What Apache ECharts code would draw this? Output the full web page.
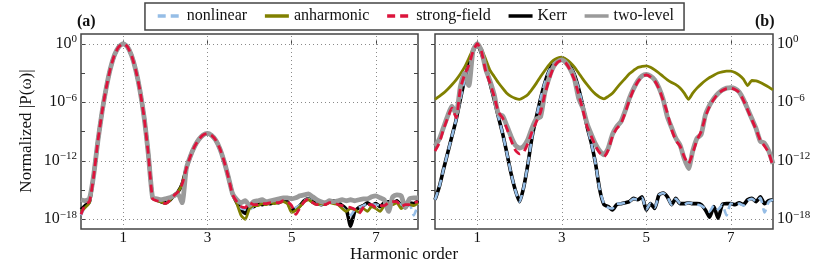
<!DOCTYPE html>
<html>
<head>
<meta charset="utf-8">
<script src="https://cdn.jsdelivr.net/npm/echarts@6/dist/echarts.min.js"></script>
<style>
html,body{margin:0;padding:0;background:#fff;}
#chart{width:830px;height:264px;}
</style>
</head>
<body>
<div id="chart"></div>
<script>
// Harmonic order samples (x)
const harmonicOrder = [0.0,0.1,0.2,0.3,0.4,0.5,0.6,0.7,0.8,0.9,1.0,1.1,1.2,1.3,1.4,1.5,1.6,1.7,1.8,1.9,2.0,2.1,2.2,2.3,2.4,2.5,2.6,2.7,2.8,2.9,3.0,3.1,3.2,3.3,3.4,3.5,3.6,3.7,3.8,3.9,4.0,4.1,4.2,4.3,4.4,4.5,4.6,4.7,4.8,4.9,5.0,5.1,5.2,5.3,5.4,5.5,5.6,5.7,5.8,5.9,6.0,6.1,6.2,6.3,6.4,6.5,6.6,6.7,6.8,6.9,7.0,7.1,7.2,7.3,7.4,7.5,7.6,7.7,7.8,7.9,8.0];

// Values are log10 of normalized |P(omega)|
// Panel (a)
const nonlinearA = [-17.6,-16.7,-16.3,-13.5,-10.0,-7.0,-4.5,-2.5,-1.1,-0.3,0,-0.3,-1.2,-2.7,-4.8,-7.6,-11.4,-15.8,-16.1,-16.2,-16.4,-16.1,-15.6,-15.2,-14.4,-12.8,-11.5,-10.5,-9.8,-9.35,-9.2,-9.4,-9.9,-10.8,-12.1,-13.7,-15.4,-16.3,-16.9,-17.0,-17.1,-16.6,-16.5,-16.4,-16.4,-16.3,-16.3,-16.2,-16.1,-16.3,-17.1,-16.8,-16.6,-16.1,-15.9,-16.2,-16.4,-16.5,-16.4,-16.3,-16.2,-16.4,-16.8,-17.2,-17.6,-17.0,-16.8,-16.6,-16.4,-16.5,-16.5,-16.6,-16.4,-16.3,-16.4,-16.2,-16.6,-16.7,-16.5,-17.6,-16.4];
const anharmonicA = [-17.2,-16.8,-16.3,-13.5,-10.0,-7.0,-4.5,-2.5,-1.1,-0.3,0,-0.3,-1.2,-2.7,-4.8,-7.6,-11.4,-15.8,-16.1,-16.2,-16.4,-16.1,-15.6,-15.2,-14.4,-12.8,-11.5,-10.5,-9.8,-9.35,-9.2,-9.4,-9.9,-10.8,-12.1,-13.7,-15.4,-16.4,-17.6,-18.0,-16.9,-16.6,-16.6,-16.4,-16.5,-16.3,-16.4,-16.3,-16.2,-16.4,-17.3,-17.1,-16.7,-16.2,-16.0,-16.3,-16.5,-16.4,-16.5,-16.3,-16.4,-16.5,-16.9,-17.2,-16.9,-17.0,-17.3,-16.9,-17.2,-16.7,-16.9,-17.2,-16.6,-16.4,-16.5,-16.3,-16.9,-16.6,-16.5,-16.6,-16.3];
const strongFieldA = [-17.5,-16.5,-16.2,-13.6,-10.0,-7.0,-4.5,-2.5,-1.1,-0.3,0,-0.3,-1.2,-2.7,-4.8,-7.6,-11.4,-15.9,-16.1,-16.2,-16.4,-16.1,-15.6,-15.2,-14.4,-12.8,-11.5,-10.5,-9.8,-9.35,-9.2,-9.4,-9.9,-10.8,-12.1,-13.7,-15.5,-16.2,-16.7,-16.8,-16.3,-16.5,-16.5,-16.4,-16.4,-16.3,-16.3,-16.3,-16.1,-16.2,-16.6,-17.5,-16.8,-16.2,-15.9,-16.3,-16.5,-16.5,-16.5,-16.3,-16.3,-16.5,-16.6,-16.7,-16.8,-17.0,-17.4,-16.8,-16.5,-16.5,-16.8,-16.6,-16.6,-16.3,-16.2,-16.2,-16.7,-16.5,-16.5,-16.3,-16.2];
const kerrA = [-17.0,-16.6,-16.2,-13.5,-10.0,-7.0,-4.5,-2.5,-1.1,-0.3,0,-0.3,-1.2,-2.7,-4.8,-7.6,-11.4,-15.8,-16.0,-16.2,-16.3,-16.1,-15.6,-15.2,-14.4,-12.8,-11.5,-10.5,-9.8,-9.35,-9.2,-9.4,-9.9,-10.8,-12.1,-13.7,-15.4,-16.3,-17.0,-17.4,-16.6,-16.7,-16.4,-16.5,-16.3,-16.4,-16.2,-16.3,-16.0,-16.2,-17.0,-16.9,-16.6,-16.1,-15.9,-16.2,-16.4,-16.5,-16.4,-16.2,-16.1,-16.3,-16.6,-17.0,-18.7,-17.2,-16.8,-16.6,-16.3,-16.6,-16.4,-16.7,-16.3,-16.2,-16.4,-16.1,-16.6,-16.8,-16.3,-16.4,-16.1];
const twoLevelA = [-16.0,-16.1,-15.9,-13.5,-10.0,-7.0,-4.5,-2.5,-1.1,-0.3,0,-0.3,-1.2,-2.7,-4.8,-7.6,-11.4,-15.8,-15.9,-16.0,-15.9,-15.8,-15.6,-15.4,-16.3,-12.8,-11.5,-10.5,-9.8,-9.35,-9.2,-9.4,-9.9,-10.8,-12.1,-13.7,-15.4,-16.0,-16.3,-16.1,-16.6,-16.2,-16.1,-16.0,-16.2,-16.1,-16.0,-15.9,-15.8,-15.8,-15.9,-15.8,-15.6,-15.5,-15.4,-15.7,-16.0,-16.2,-16.3,-16.1,-16.2,-16.1,-16.0,-16.1,-16.0,-16.1,-16.0,-15.9,-15.9,-15.7,-15.6,-15.8,-16.0,-17.2,-15.7,-15.5,-15.6,-16.8,-15.9,-15.8,-15.8];

// Panel (b)
const nonlinearB = [-16.0,-14.7,-12.9,-11.2,-9.5,-7.8,-5.7,-3.7,-2.0,-0.8,0,-1.0,-2.3,-4.0,-5.7,-7.5,-9.2,-11.2,-13.3,-15.0,-16.2,-14.7,-12.3,-9.5,-7.5,-5.6,-4.0,-2.8,-2.0,-1.6,-1.5,-1.7,-2.3,-3.2,-4.6,-6.4,-8.5,-10.2,-12.3,-15.0,-16.4,-16.8,-16.9,-16.4,-16.4,-16.3,-16.2,-15.9,-16.0,-15.8,-17.0,-16.4,-16.8,-15.5,-15.3,-15.7,-16.5,-15.9,-16.4,-16.5,-16.3,-16.4,-16.5,-16.6,-16.9,-17.2,-16.6,-17.0,-16.5,-17.6,-16.4,-16.5,-16.4,-16.6,-16.1,-15.9,-16.2,-15.8,-17.3,-16.2,-16.0];
const anharmonicB = [-5.7,-5.4,-5.07,-4.66,-4.2,-3.7,-3.1,-2.4,-1.5,-0.55,0,-0.55,-1.6,-2.7,-3.35,-4.0,-4.55,-5.07,-5.4,-5.6,-5.7,-5.5,-5.2,-4.66,-4.04,-3.36,-2.74,-2.16,-1.7,-1.47,-1.37,-1.58,-1.92,-2.4,-3.0,-3.63,-4.2,-4.73,-5.17,-5.48,-5.65,-5.4,-5.07,-4.55,-4.04,-3.56,-3.08,-2.74,-2.43,-2.33,-2.26,-2.4,-2.67,-3.0,-3.36,-3.7,-3.97,-4.2,-4.55,-5.07,-5.7,-5.07,-4.55,-4.14,-3.77,-3.46,-3.22,-3.0,-2.88,-2.8,-2.8,-2.95,-3.22,-3.63,-4.3,-3.77,-3.8,-3.97,-4.2,-4.45,-4.73];
const strongFieldB = [-11.0,-10.2,-8.8,-7.6,-6.6,-7.6,-4.6,-3.2,-2.2,-0.8,0,-0.8,-2.8,-4.0,-5.4,-7.0,-7.6,-8.7,-9.9,-10.9,-11.3,-11.1,-10.2,-9.0,-8.0,-7.0,-5.2,-3.7,-2.5,-1.9,-1.7,-2.0,-2.7,-3.7,-5.2,-6.8,-8.5,-9.5,-10.5,-11.2,-11.6,-10.9,-9.5,-8.7,-8.2,-7.1,-5.8,-4.7,-3.9,-3.4,-3.2,-3.4,-3.8,-4.6,-5.8,-7.1,-8.8,-9.9,-10.5,-11.6,-12.3,-11.2,-9.9,-9.0,-7.5,-6.4,-5.7,-5.1,-4.8,-4.6,-4.55,-4.7,-5.0,-5.8,-6.8,-7.8,-8.8,-9.9,-10.5,-11.2,-12.6];
const kerrB = [-16.0,-14.7,-12.9,-11.2,-9.5,-7.8,-5.7,-3.7,-2.0,-0.8,0,-1.0,-2.3,-4.0,-5.7,-7.5,-9.2,-11.2,-13.3,-15.0,-16.2,-14.7,-12.3,-9.5,-7.5,-5.6,-4.0,-2.8,-2.0,-1.6,-1.5,-1.7,-2.3,-3.2,-4.6,-6.4,-8.5,-10.2,-12.3,-15.0,-16.5,-16.7,-17.05,-16.5,-16.4,-16.3,-16.2,-15.86,-16.0,-15.7,-17.05,-16.4,-16.9,-15.5,-15.3,-15.7,-16.5,-15.86,-16.4,-16.4,-16.3,-16.4,-16.4,-16.5,-17.05,-17.8,-16.7,-17.9,-16.5,-16.4,-16.4,-16.5,-16.3,-16.5,-16.0,-15.86,-16.2,-15.7,-16.4,-16.1,-16.0];
const twoLevelB = [-10.5,-9.8,-8.6,-7.4,-6.4,-7.2,-4.4,-3.0,-4.3,-0.7,0,-0.7,-2.6,-3.8,-5.2,-7.2,-7.4,-8.4,-9.5,-10.4,-10.7,-10.5,-9.8,-8.6,-7.7,-7.5,-5.0,-3.5,-2.4,-1.85,-1.65,-1.95,-2.6,-3.6,-5.6,-6.6,-8.2,-9.3,-10.3,-11.0,-11.4,-10.7,-9.3,-8.5,-8.0,-6.9,-5.6,-4.6,-3.8,-3.3,-3.15,-3.3,-3.7,-4.5,-5.7,-7.5,-8.6,-9.7,-10.4,-11.8,-12.8,-11.0,-9.7,-9.3,-7.3,-6.3,-5.6,-5.1,-4.75,-4.55,-4.5,-4.6,-4.95,-5.7,-6.7,-7.7,-8.7,-10.0,-10.2,-11.0,-12.3];

// Axis tick values (exponents of 10) and harmonic labels
const yLabelExps = [-18, -12, -6, 0];
const yTickExps = [-18, -15, -12, -9, -6, -3, 0];
const xTickVals = [1, 3, 5, 7];
const seriesNames = ['nonlinear', 'anharmonic', 'strong-field', 'Kerr', 'two-level'];

const FONT = 'Liberation Serif';
const zip = (ys) => harmonicOrder.map((x, i) => [x, ys[i]]);

const styles = {
  'Kerr':        { color: '#000000', width: 3.6, type: 'solid', z: 2 },
  'nonlinear':   { color: '#95bde6', width: 2.6, type: [8, 5], z: 3 },
  'anharmonic':  { color: '#808000', width: 2.8, type: 'solid', z: 4 },
  'two-level':   { color: '#9a9a9a', width: 4.8, type: 'solid', z: 5 },
  'strong-field':{ color: '#dc143c', width: 2.8, type: [8, 5], z: 6 }
};
const panelData = [
  { 'Kerr': kerrA, 'nonlinear': nonlinearA, 'anharmonic': anharmonicA, 'two-level': twoLevelA, 'strong-field': strongFieldA },
  { 'Kerr': kerrB, 'nonlinear': nonlinearB, 'anharmonic': anharmonicB, 'two-level': twoLevelB, 'strong-field': strongFieldB }
];
const drawOrder = ['Kerr', 'nonlinear', 'anharmonic', 'two-level', 'strong-field'];

const series = [];
const yIndexFor = [0, 2];
panelData.forEach((pd, p) => {
  // dotted grid lines
  series.push({
    type: 'line', xAxisIndex: p, yAxisIndex: yIndexFor[p], data: [], silent: true, z: 1,
    markLine: {
      silent: true, symbol: 'none', animation: false,
      label: { show: false },
      lineStyle: { color: '#8a8a8a', width: 1, type: [1, 3] },
      data: xTickVals.map(v => ({ xAxis: v })).concat(yLabelExps.map(v => ({ yAxis: v })))
    }
  });
  drawOrder.forEach(name => {
    const s = styles[name];
    series.push({
      name, type: 'line', xAxisIndex: p, yAxisIndex: yIndexFor[p],
      data: zip(pd[name]), showSymbol: false, symbol: 'none', smooth: 0.2,
      z: s.z, lineStyle: { color: s.color, width: s.width, type: s.type, cap: 'butt', join: 'round' },
      itemStyle: { color: s.color }
    });
  });
});

const labelFmt = v => '{b|10}{s|' + (v === 0 ? '0' : '\u2212' + (-v)) + '}';
const rich = {
  b: { fontFamily: FONT, fontSize: 16, color: '#111' },
  s: { fontFamily: FONT, fontSize: 11, color: '#111', verticalAlign: 'bottom', padding: [0, 0, 9, 0] }
};

function xAxis(gi) {
  return {
    type: 'value', gridIndex: gi, min: 0, max: 8,
    axisLine: { show: false }, splitLine: { show: false },
    axisTick: { inside: true, length: 4, customValues: xTickVals, lineStyle: { color: '#444', width: 1 } },
    axisLabel: { customValues: xTickVals, fontFamily: FONT, fontSize: 15, color: '#111', margin: 2 }
  };
}
function yAxis(gi, pos, showLabel) {
  return {
    type: 'value', gridIndex: gi, min: -19, max: 1, position: pos,
    axisLine: { show: false }, splitLine: { show: false },
    axisTick: { show: true, inside: true, length: 4, customValues: yTickExps, lineStyle: { color: '#444', width: 1 } },
    axisLabel: { show: showLabel, customValues: yLabelExps, formatter: labelFmt, rich, margin: 4 }
  };
}

const option = {
  animation: false,
  backgroundColor: '#fff',
  grid: [
    { left: 81, top: 34, width: 337, height: 195, show: true, borderColor: '#444', borderWidth: 1.5, backgroundColor: 'transparent' },
    { left: 435, top: 34, width: 338, height: 195, show: true, borderColor: '#444', borderWidth: 1.5, backgroundColor: 'transparent' }
  ],
  xAxis: [xAxis(0), xAxis(1)],
  yAxis: [yAxis(0, 'left', true), yAxis(0, 'right', false), yAxis(1, 'right', true)],
  legend: {
    data: seriesNames, top: 3, left: 'center', orient: 'horizontal',
    itemWidth: 24, itemHeight: 12, itemGap: 16,
    itemStyle: { opacity: 0 },
    lineStyle: { width: 3.5 },
    padding: [5, 10, 6, 11], borderColor: '#444', borderWidth: 1.5,
    textStyle: { fontFamily: FONT, fontSize: 16, color: '#111' }
  },
  graphic: [
    { type: 'text', left: 77, top: 14, style: { text: '(a)', font: 'bold 16px "Liberation Serif"', fill: '#111' } },
    { type: 'text', left: 755, top: 14, style: { text: '(b)', font: 'bold 16px "Liberation Serif"', fill: '#111' } },
    { type: 'text', x: 404, y: 255, style: { text: 'Harmonic order', font: '17px "Liberation Serif"', fill: '#111', align: 'center', verticalAlign: 'middle' } },
    { type: 'text', x: 27, y: 131, rotation: Math.PI / 2, style: { text: 'Normalized |P(\u03c9)|', font: '17px "Liberation Serif"', fill: '#111', align: 'center', verticalAlign: 'middle' } }
  ],
  series
};

const chart = echarts.init(document.getElementById('chart'), null, { renderer: 'canvas' });
chart.setOption(option);
</script>
</body>
</html>
